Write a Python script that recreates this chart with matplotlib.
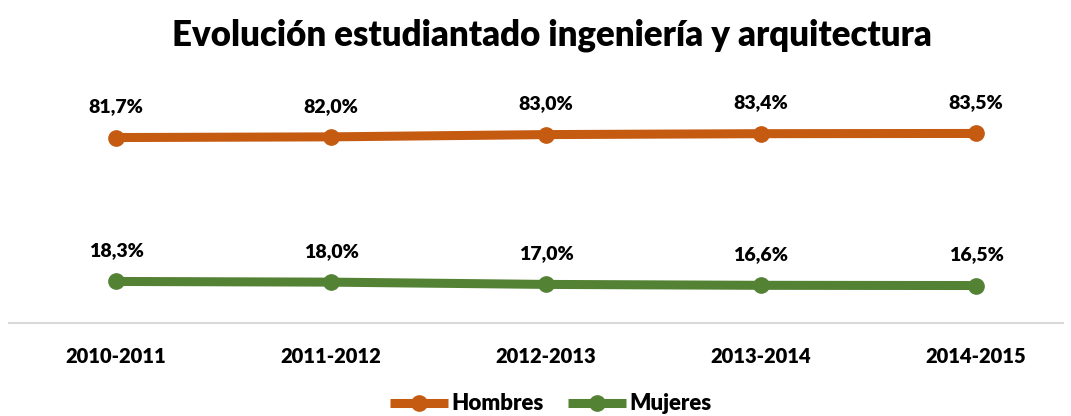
import matplotlib.pyplot as plt

plt.rcParams['font.family'] = ['Lato', 'DejaVu Sans']

periodos = ['2010-2011', '2011-2012', '2012-2013', '2013-2014', '2014-2015']
hombres = [81.7, 82.0, 83.0, 83.4, 83.5]
mujeres = [18.3, 18.0, 17.0, 16.6, 16.5]

naranja = '#C55A11'
verde = '#548235'

def pct(v):
  return f'{v:.1f}%'.replace('.', ',')

fig = plt.figure(figsize=(10.71, 4.16), dpi=100)
# los puntos van cada 215 px, el primero en x=116
ax = fig.add_axes([8.5 / 1071, 1 - 323 / 416, 1075 / 1071, 227 / 416])

x = list(range(len(periodos)))
ax.plot(x, hombres, color=naranja, lw=6.5, marker='o', ms=11, label='Hombres', solid_capstyle='butt')
ax.plot(x, mujeres, color=verde, lw=6.5, marker='o', ms=11, label='Mujeres', solid_capstyle='butt')

for xi, h, m in zip(x, hombres, mujeres):
  ax.annotate(pct(h), (xi, h), xytext=(0, 16), textcoords='offset points',
              ha='center', va='bottom', fontsize=14, fontweight='heavy')
  ax.annotate(pct(m), (xi, m), xytext=(0, 16), textcoords='offset points',
              ha='center', va='bottom', fontsize=14, fontweight='heavy')

ax.set_xlim(-0.5, 4.5)
ax.set_ylim(0, 100)
ax.set_xticks(x)
ax.set_xticklabels(periodos, fontsize=14.5, fontweight='heavy')
ax.tick_params(axis='x', length=0, pad=17)
ax.set_yticks([])
for s in ['top', 'right', 'left']:
  ax.spines[s].set_visible(False)
ax.spines['bottom'].set_color('#D9D9D9')
ax.spines['bottom'].set_linewidth(1.5)
ax.spines['bottom'].set_bounds(-0.5, 4.405)

fig.text(552 / 1071, 1 - 35 / 416, 'Evolución estudiantado ingeniería y arquitectura',
         ha='center', va='center', fontsize=25, fontweight='heavy')

fig.legend(loc='center', bbox_to_anchor=(0.514, 1 - 404 / 416), ncol=2, frameon=False,
           prop={'size': 16, 'weight': 'heavy'}, handlelength=2.6, handletextpad=0.15,
           columnspacing=1.1, borderaxespad=0)

fig.savefig('out.png', dpi=100)
